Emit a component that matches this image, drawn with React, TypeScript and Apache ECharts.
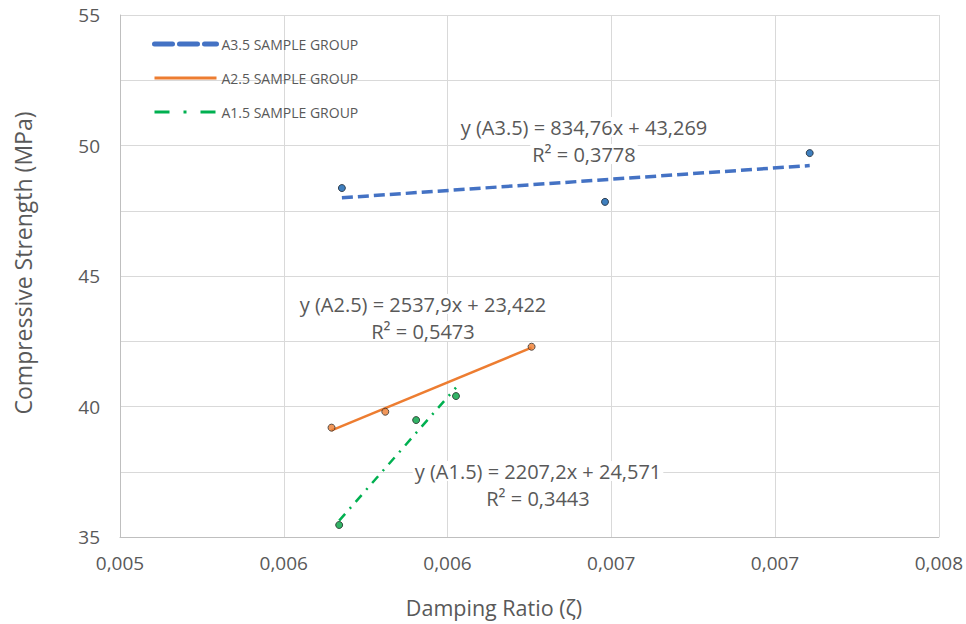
import React, { useEffect, useRef } from "react";
import * as echarts from "echarts";

// Data (x = damping ratio, y = compressive strength, MPa)
const xA35 = [0.005813, 0.006777, 0.007527];
const yA35 = [48.37, 47.84, 49.71];
const xA25 = [0.005775, 0.005972, 0.006508];
const yA25 = [39.19, 39.8, 42.29];
const xA15 = [0.005803, 0.006085, 0.006231];
const yA15 = [35.46, 39.48, 40.4];

const seriesNames = ["A3.5 SAMPLE GROUP", "A2.5 SAMPLE GROUP", "A1.5 SAMPLE GROUP"];
const equations = [
  ["y (A3.5) = 834,76x + 43,269", "R² = 0,3778"],
  ["y (A2.5) = 2537,9x + 23,422", "R² = 0,5473"],
  ["y (A1.5) = 2207,2x + 24,571", "R² = 0,3443"],
];

const xMin = 0.005;
const xMax = 0.008;
const xStep = 0.0006;
const yMin = 35;
const yMax = 55;
const yGridStep = 2.5;
const yLabelStep = 5;

// x is plotted in units of 1e-4 from xMin so that ticks start exactly at xMin
const SCALE = 10000;
const toX = (v: number) => (v - xMin) * SCALE;

function fit(xs: number[], ys: number[]) {
  const n = xs.length;
  const mx = xs.reduce((a, b) => a + b, 0) / n;
  const my = ys.reduce((a, b) => a + b, 0) / n;
  let sxy = 0;
  let sxx = 0;
  for (let i = 0; i < n; i++) {
    sxy += (xs[i] - mx) * (ys[i] - my);
    sxx += (xs[i] - mx) * (xs[i] - mx);
  }
  const b = sxy / sxx;
  const a = my - b * mx;
  const x0 = Math.min(...xs);
  const x1 = Math.max(...xs);
  return [
    [toX(x0), a + b * x0],
    [toX(x1), a + b * x1],
  ];
}

const pts = (xs: number[], ys: number[]) => xs.map((x, i) => [toX(x), ys[i]]);

const FONT = "'Open Sans', sans-serif";
const GRAY = "#595959";

export default function App() {
  const ref = useRef<HTMLDivElement>(null);
  useEffect(() => {
    document.body.style.margin = "0";
    if (!ref.current) return;
    const chart = echarts.init(ref.current, null, { renderer: "svg" });
    const txt = (x: number, y: number, t: string, size: number, rotation = 0, bg = false) => ({
      type: "text",
      x,
      y,
      rotation,
      z: 1,
      style: {
        text: t,
        fill: GRAY,
        font: `${size}px ${FONT}`,
        textAlign: "center",
        textVerticalAlign: "middle",
        ...(bg ? { backgroundColor: "#ffffff", padding: [0, 2] } : {}),
      },
    });
    chart.setOption({
      animation: false,
      backgroundColor: "#ffffff",
      grid: { left: 120, right: 27, top: 15, bottom: 87 },
      legend: {
        orient: "vertical",
        left: 147,
        top: 32,
        itemWidth: 62,
        itemHeight: 14,
        itemGap: 20,
        itemStyle: { opacity: 0 },
        data: [
          { name: seriesNames[0], lineStyle: { width: 5, type: [18, 7], cap: "round" } },
          { name: seriesNames[1], lineStyle: { width: 3 } },
          { name: seriesNames[2], lineStyle: { width: 3, type: [15, 14, 3, 14] } },
        ],
        textStyle: { color: GRAY, fontSize: 14, fontFamily: FONT },
      },
      xAxis: {
        type: "value",
        min: 0,
        max: toX(xMax),
        interval: xStep * SCALE,
        axisLine: { show: true, lineStyle: { color: "#bfbfbf" } },
        axisTick: { show: false },
        splitLine: { show: true, lineStyle: { color: "#d9d9d9" } },
        axisLabel: {
          color: GRAY,
          fontSize: 19,
          fontFamily: FONT,
          margin: 16,
          formatter: (v: number) => (xMin + v / SCALE).toFixed(3).replace(".", ","),
        },
      },
      yAxis: {
        type: "value",
        min: yMin,
        max: yMax,
        interval: yGridStep,
        axisLine: { show: true, lineStyle: { color: "#bfbfbf" } },
        axisTick: { show: false },
        splitLine: { show: true, lineStyle: { color: "#d9d9d9" } },
        axisLabel: {
          color: GRAY,
          fontSize: 19,
          fontFamily: FONT,
          margin: 20,
          formatter: (v: number) => (Math.abs(v % yLabelStep) < 1e-9 ? String(v) : ""),
        },
      },
      series: [
        {
          name: seriesNames[0],
          type: "line",
          data: fit(xA35, yA35),
          showSymbol: false,
          symbol: "none",
          lineStyle: { color: "#4472c4", width: 3.5, type: [11, 5] },
          itemStyle: { color: "#4472c4" },
          z: 2,
        },
        {
          name: seriesNames[1],
          type: "line",
          data: fit(xA25, yA25),
          showSymbol: false,
          symbol: "none",
          lineStyle: { color: "#ed7d31", width: 2.5, type: "solid" },
          itemStyle: { color: "#ed7d31" },
          z: 2,
        },
        {
          name: seriesNames[2],
          type: "line",
          data: fit(xA15, yA15),
          showSymbol: false,
          symbol: "none",
          lineStyle: { color: "#00b050", width: 2.5, type: [9, 7, 2, 7] },
          itemStyle: { color: "#00b050" },
          z: 2,
        },
        {
          name: "A3.5 points",
          type: "scatter",
          data: pts(xA35, yA35),
          symbolSize: 7,
          itemStyle: { color: "#0f5fae", borderColor: "#1a2430", borderWidth: 1 },
          z: 3,
        },
        {
          name: "A2.5 points",
          type: "scatter",
          data: pts(xA25, yA25),
          symbolSize: 7,
          itemStyle: { color: "#ed7d31", borderColor: "#333333", borderWidth: 1 },
          z: 3,
        },
        {
          name: "A1.5 points",
          type: "scatter",
          data: pts(xA15, yA15),
          symbolSize: 7,
          itemStyle: { color: "#00a040", borderColor: "#1f2a24", borderWidth: 1 },
          z: 3,
        },
      ],
      graphic: [
        txt(584, 127, equations[0][0], 20, 0, true),
        txt(584, 154, equations[0][1], 20, 0, true),
        txt(423, 304, equations[1][0], 20, 0, true),
        txt(423, 331, equations[1][1], 20, 0, true),
        txt(538, 471, equations[2][0], 20, 0, true),
        txt(538, 498, equations[2][1], 20, 0, true),
        txt(494, 607, "Damping Ratio (ζ)", 21.5),
        txt(23, 263, "Compressive Strength (MPa)", 23, Math.PI / 2),
      ],
    });
    return () => chart.dispose();
  }, []);
  return <div ref={ref} style={{ width: 966, height: 624 }} />;
}
